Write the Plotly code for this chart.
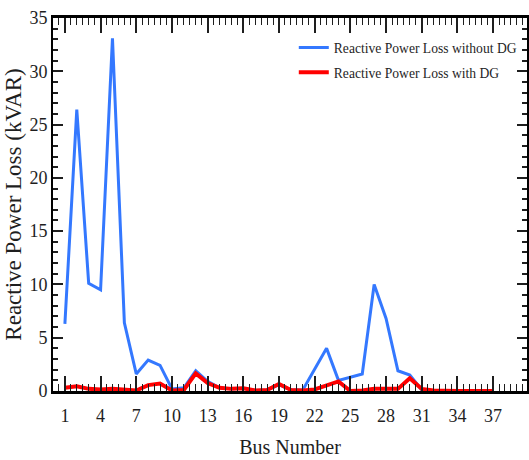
import plotly.graph_objects as go

# Bus indices of the 37-bus feeder
buses = list(range(1, 38))

# Reactive power loss per bus (kVAR), base case without distributed generation
loss_without_dg = [6.3, 26.4, 10.1, 9.5, 33.1, 6.4, 1.6, 2.9, 2.4, 0.2,
                   0.3, 1.9, 0.9, 0.3, 0.2, 0.25, 0.05, 0.1, 0.6, 0.1,
                   0.1, 2.0, 4.0, 1.0, 1.3, 1.6, 10.0, 6.8, 1.9, 1.5,
                   0.1, 0.0, 0.0, 0.0, 0.0, 0.0, 0.0]

# Reactive power loss per bus (kVAR) after placing distributed generation
loss_with_dg = [0.3, 0.45, 0.2, 0.15, 0.2, 0.1, 0.05, 0.55, 0.7, 0.05,
                0.1, 1.65, 0.75, 0.3, 0.2, 0.25, 0.05, 0.1, 0.65, 0.1,
                0.05, 0.15, 0.55, 0.9, 0.0, 0.05, 0.2, 0.2, 0.2, 1.2,
                0.2, 0.05, 0.0, 0.0, 0.0, 0.0, 0.0]

x_tick_values = list(range(1, 38, 3))
y_tick_values = list(range(0, 36, 5))

serif = "Liberation Serif, Times New Roman, serif"
ink = "#1e1e1e"

fig = go.Figure()
fig.add_trace(go.Scatter(
    x=buses, y=loss_without_dg, mode="lines",
    name="Reactive Power Loss without DG",
    line=dict(color="#3478FF", width=3),
    legendgroup="a",
))
fig.add_trace(go.Scatter(
    x=buses, y=loss_with_dg, mode="lines",
    name="Reactive Power Loss with DG",
    line=dict(color="#FF0000", width=4),
    legendgroup="b",
))

fig.update_layout(
    width=529, height=460,
    margin=dict(l=53, r=0, t=18, b=69),
    paper_bgcolor="white", plot_bgcolor="white",
    font=dict(family=serif, color=ink),
    showlegend=True,
    legend=dict(
        x=0.508, y=0.962, xanchor="left", yanchor="top",
        bgcolor="rgba(0,0,0,0)", borderwidth=0,
        font=dict(family=serif, size=13.6, color=ink),
        tracegroupgap=4,
    ),
    xaxis=dict(
        range=[0, 39.85],
        tickmode="array", tickvals=x_tick_values,
        ticks="inside", ticklen=15, tickwidth=1.5, tickcolor=ink,
        minor=dict(dtick=0.5, tick0=1, ticks="inside", ticklen=7,
                   tickwidth=1.2, tickcolor=ink),
        showline=True, linecolor="black", linewidth=2.5, mirror="allticks",
        showgrid=False, zeroline=False,
        ticklabelstandoff=7,
        tickfont=dict(family=serif, size=18, color=ink),
        title=dict(text="Bus Number", standoff=15,
                   font=dict(family=serif, size=20, color=ink)),
    ),
    yaxis=dict(
        range=[0, 35],
        tickmode="array", tickvals=y_tick_values,
        ticks="inside", ticklen=10, tickwidth=1.8, tickcolor=ink,
        minor=dict(dtick=1, ticks="inside", ticklen=5,
                   tickwidth=1.5, tickcolor=ink),
        showline=True, linecolor="black", linewidth=2, mirror="allticks",
        showgrid=False, zeroline=False,
        tickfont=dict(family=serif, size=18, color=ink),
        title=dict(text="Reactive Power Loss (kVAR)", standoff=1,
                   font=dict(family=serif, size=23, color=ink)),
    ),
)

fig.write_html("out.html")
